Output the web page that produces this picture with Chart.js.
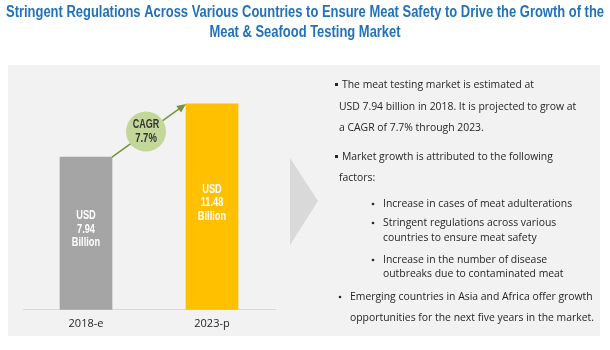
<!DOCTYPE html>
<html><head><meta charset="utf-8">
<script src="https://cdn.jsdelivr.net/npm/chart.js@4.4.0/dist/chart.umd.min.js"></script>
<style>html,body{margin:0;padding:0;background:#fff;}#wrap{width:610px;height:350px;}</style>
</head><body><div id="wrap"><canvas id="c" width="610" height="350"></canvas></div>
<script>
// ---- data ----
const categories = ['2018-e', '2023-p'];
const marketValues = [7.94, 11.48];            // USD billion
const barColors = ['#a5a5a5', '#ffc000'];
const barLabels = [['USD', '7.94', 'Billion'], ['USD', '11.48', 'Billion']];
const cagrLabel = ['CAGR', '7.7%'];
const titleLines = [
  'Stringent Regulations Across Various Countries to Ensure Meat Safety to Drive the Growth of the',
  'Meat & Seafood Testing Market'
];
// [bulletType, text, y]
const notes = [
  ['sq', 'The meat testing market is estimated at', 85],
  ['', 'USD 7.94 billion in 2018. It is projected to grow at', 107],
  ['', 'a CAGR of 7.7% through 2023.', 128],
  ['sq', 'Market growth is attributed to the following', 157],
  ['', 'factors:', 178],
  ['sub', 'Increase in cases of meat adulterations', 204],
  ['sub', 'Stringent regulations across various', 223],
  ['subc', 'countries to ensure meat safety', 238],
  ['sub', 'Increase in the number of disease', 260],
  ['subc', 'outbreaks due to contaminated meat', 274],
  ['dot', 'Emerging countries in Asia and Africa offer growth', 297],
  ['dotc', 'opportunities for the next five years in the market.', 318]
];
const AXIS_MIN = -2.2, AXIS_MAX = 14;

const BOLD = '"Liberation Sans",Arial,sans-serif';
const BODY = '"Open Sans","Liberation Sans",sans-serif';

function condensed(ctx, text, x, y, sx) {
  ctx.save();
  ctx.translate(x, y);
  ctx.scale(sx, 1);
  ctx.fillText(text, 0, 0);
  ctx.restore();
}

const decor = {
  id: 'decor',
  beforeDraw(chart) {
    const ctx = chart.ctx;
    ctx.save();
    ctx.fillStyle = '#ffffff';
    ctx.fillRect(0, 0, chart.width, chart.height);
    ctx.fillStyle = '#f2f2f2';
    ctx.fillRect(8, 65, 592, 271);
    // chevron
    ctx.fillStyle = '#d9d9d9';
    ctx.beginPath();
    ctx.moveTo(290, 158); ctx.lineTo(318, 201); ctx.lineTo(290, 245); ctx.closePath();
    ctx.fill();
    // title (condensed look)
    ctx.fillStyle = '#2272b9';
    ctx.font = 'bold 16px ' + BOLD;
    ctx.textAlign = 'center';
    ctx.textBaseline = 'middle';
    const sx = 598 / ctx.measureText(titleLines[0]).width;
    condensed(ctx, titleLines[0], 305, 13, sx);
    condensed(ctx, titleLines[1], 305, 33, sx);
    // notes
    ctx.fillStyle = '#262626';
    ctx.font = '10.4px ' + BODY;
    ctx.textAlign = 'left';
    notes.forEach(([b, t, y]) => {
      let x = 339;
      if (b === 'sq') { ctx.fillRect(335, y - 2, 3, 3); x = 342; }
      else if (b === 'sub') { ctx.beginPath(); ctx.arc(373, y, 1.3, 0, Math.PI * 2); ctx.fill(); x = 383; }
      else if (b === 'subc') { x = 383; }
      else if (b === 'dot') { ctx.beginPath(); ctx.arc(340, y, 1.3, 0, Math.PI * 2); ctx.fill(); x = 350; }
      else if (b === 'dotc') { x = 350; }
      ctx.fillText(t, x, y);
    });
    ctx.restore();
  },
  afterDatasetsDraw(chart) {
    const ctx = chart.ctx;
    const bars = chart.getDatasetMeta(0).data;
    ctx.save();
    // bar labels
    ctx.fillStyle = '#ffffff';
    ctx.font = 'bold 12.5px ' + BOLD;
    ctx.textAlign = 'center';
    ctx.textBaseline = 'middle';
    bars.forEach((bar, i) => {
      const cy = (bar.y + bar.base) / 2 - 4;
      barLabels[i].forEach((l, k) => condensed(ctx, l, bar.x, cy + (k - 1) * 13.5, 0.74));
    });
    // arrow
    const b0 = bars[0], b1 = bars[1];
    const x0 = b0.x + b0.width / 2, y0 = b0.y;
    const x1 = b1.x - b1.width / 2, y1 = b1.y;
    const ang = Math.atan2(y1 - y0, x1 - x0);
    ctx.strokeStyle = '#77933c';
    ctx.fillStyle = '#77933c';
    ctx.lineWidth = 1.5;
    ctx.beginPath();
    ctx.moveTo(x0, y0);
    ctx.lineTo(x1 - 6 * Math.cos(ang), y1 - 6 * Math.sin(ang));
    ctx.stroke();
    ctx.beginPath();
    ctx.moveTo(x1, y1);
    ctx.lineTo(x1 - 9 * Math.cos(ang) + 4 * Math.sin(ang), y1 - 9 * Math.sin(ang) - 4 * Math.cos(ang));
    ctx.lineTo(x1 - 9 * Math.cos(ang) - 4 * Math.sin(ang), y1 - 9 * Math.sin(ang) + 4 * Math.cos(ang));
    ctx.closePath();
    ctx.fill();
    // circle
    const cx = (x0 + x1) / 2 - 3, cyc = (y0 + y1) / 2 + 1;
    ctx.fillStyle = '#c4d79b';
    ctx.beginPath();
    ctx.arc(cx, cyc, 20, 0, Math.PI * 2);
    ctx.fill();
    ctx.fillStyle = '#333333';
    ctx.font = 'bold 12.5px ' + BOLD;
    condensed(ctx, cagrLabel[0], cx, cyc - 7, 0.72);
    condensed(ctx, cagrLabel[1], cx, cyc + 7, 0.76);
    ctx.restore();
  }
};

new Chart(document.getElementById('c'), {
  type: 'bar',
  data: {
    labels: categories,
    datasets: [{
      data: marketValues,
      backgroundColor: barColors,
      barThickness: 52,
      base: AXIS_MIN,
      borderWidth: 0
    }]
  },
  options: {
    responsive: false,
    animation: false,
    devicePixelRatio: 1,
    layout: { padding: { left: 23, right: 335, top: 66, bottom: 13 } },
    plugins: { legend: { display: false }, title: { display: false }, tooltip: { enabled: false } },
    scales: {
      x: {
        grid: { display: false, drawTicks: false },
        border: { display: true, color: '#d9d9d9', width: 1 },
        ticks: { color: '#262626', font: { family: BODY, size: 11 }, padding: 7 }
      },
      y: { display: false, min: AXIS_MIN, max: AXIS_MAX }
    }
  },
  plugins: [decor]
});
</script>
</body></html>
